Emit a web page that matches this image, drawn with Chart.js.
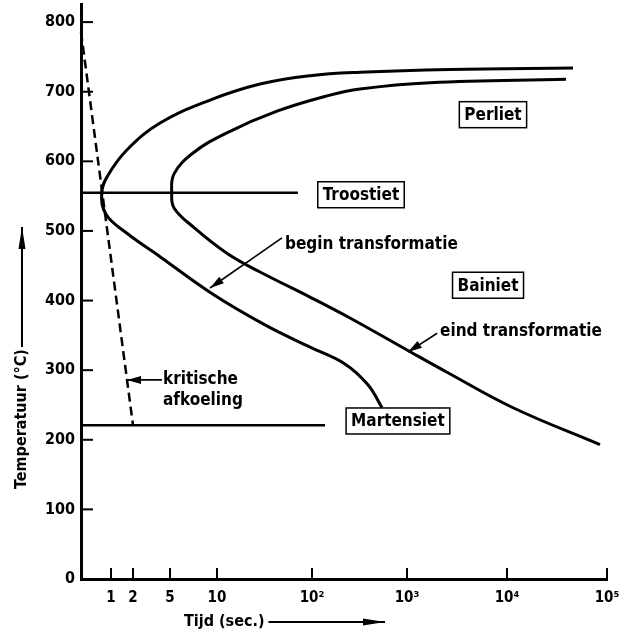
<!DOCTYPE html>
<html><head><meta charset="utf-8">
<script src="https://cdn.jsdelivr.net/npm/chart.js@4/dist/chart.umd.min.js"></script>
<style>html,body{margin:0;padding:0;background:#fff}</style>
</head><body>
<canvas id="c" width="636" height="634"></canvas>
<script>
// ---------- DATA (time in seconds, temperature in °C) ----------
const xTickValues = [0, 1, 2, 5, 10, 100, 1000, 10000, 100000];
const xTickLabels = ['', '1', '2', '5', '10', '10²', '10³', '10⁴', '10⁵'];
const yTickValues = [0, 100, 200, 300, 400, 500, 600, 700, 800];

// begin transformatie (outer C-curve): upper branch from right to nose, then lower branch
const beginTime = [45700, 2690, 320, 95.3, 28.4, 9.26, 4.19, 1.71, 0.9, 0.69,
                   0.833, 1.71, 4.19, 9.57, 32, 95.3, 222, 388, 546];
const beginTemp = [734, 732, 728, 723, 711, 688, 655, 616, 580, 555,
                   524, 497, 463, 409, 365, 333, 309, 279, 246];

// eind transformatie (inner C-curve)
const endTime = [38900, 1700, 320, 144, 42.8, 12.7, 7.45, 5.43, 5.18,
                 5.43, 7.45, 12.7, 28.4, 95.3, 251, 1000, 2512, 11500, 85100];
const endTemp = [718, 713, 704, 694, 672, 641, 612, 582, 555,
                 533, 506, 468, 441, 405, 375, 329, 297, 246, 193];

// kritische afkoeling (dashed)
const criticalTime = [0, 1, 2];
const criticalTemp = [786, 460, 221];

// horizontal lines (Troostiet level, Martensiet start)
const troostietTime = [0, 71];
const troostietTemp = [555, 555];
const martensietTime = [0, 137];
const martensietTemp = [221, 221];

// ---------- AXIS GEOMETRY (hand-drawn time axis: spacing of each tick) ----------
const xAxisUnits = [0, 30, 52, 89, 136, 231, 326, 426, 526];
function warp(t) {
  const n = xTickValues.length;
  for (let i = 1; i < n; i++) {
    if (t <= xTickValues[i] || i === n - 1) {
      const a = xTickValues[i - 1], b = xTickValues[i];
      const f = (a >= 10)
        ? (Math.log10(t) - Math.log10(a)) / (Math.log10(b) - Math.log10(a))
        : (t - a) / (b - a);
      return xAxisUnits[i - 1] + f * (xAxisUnits[i] - xAxisUnits[i - 1]);
    }
  }
}
const pts = (ts, Ts) => ts.map((t, i) => ({ x: warp(t), y: Ts[i] }));

const FONT = 'DejaVu Sans Condensed';

// annotations in data coordinates
const boxLabels = [
  { text: 'Perliet', t: 7240, T: 667 },
  { text: 'Troostiet', t: 328, T: 552 },
  { text: 'Bainiet', t: 6460, T: 422 },
  { text: 'Martensiet', t: 803, T: 227 }
];
const freeLabels = [
  { text: 'begin transformatie', t: 52, T: 480 },
  { text: 'eind transformatie', t: 2140, T: 355 },
  { text: 'kritische', t: 4.43, T: 286 },
  { text: 'afkoeling', t: 4.43, T: 257 }
];
const arrows = [
  { from: [48.3, 490], to: [9.26, 418] },
  { from: [2000, 353], to: [1023, 326] },
  { from: [4.35, 286], to: [1.73, 286] }
];

function line(ctx, x1, y1, x2, y2) { ctx.beginPath(); ctx.moveTo(x1, y1); ctx.lineTo(x2, y2); ctx.stroke(); }
function arrowHead(ctx, x1, y1, x2, y2, len, half) {
  const a = Math.atan2(y2 - y1, x2 - x1);
  const bx = x2 - len * Math.cos(a), by = y2 - len * Math.sin(a);
  ctx.beginPath();
  ctx.moveTo(x2, y2);
  ctx.lineTo(bx + half * Math.sin(a), by - half * Math.cos(a));
  ctx.lineTo(bx - half * Math.sin(a), by + half * Math.cos(a));
  ctx.closePath(); ctx.fill();
}

const overlay = {
  id: 'overlay',
  afterDraw(chart) {
    const ctx = chart.ctx, xs = chart.scales.x, ys = chart.scales.y;
    const P = (t, T) => ({ x: xs.getPixelForValue(warp(t)), y: ys.getPixelForValue(T) });
    ctx.save();
    ctx.strokeStyle = '#000'; ctx.fillStyle = '#000'; ctx.lineWidth = 2;
    // inward tick marks
    yTickValues.forEach(v => { if (v === 0) return; const y = ys.getPixelForValue(v); line(ctx, xs.left, y, xs.left + 12, y); });
    xTickValues.forEach(v => { if (v === 0) return; const x = xs.getPixelForValue(warp(v)); line(ctx, x, ys.bottom, x, ys.bottom - 11); });

    // boxed labels
    ctx.font = 'bold 17px "' + FONT + '"';
    ctx.textBaseline = 'middle'; ctx.textAlign = 'center';
    ctx.lineWidth = 1.5;
    boxLabels.forEach(b => {
      const p = P(b.t, b.T);
      const w = ctx.measureText(b.text).width + 10, h = 26;
      ctx.fillStyle = '#fff'; ctx.fillRect(p.x - w / 2, p.y - h / 2, w, h);
      ctx.strokeRect(p.x - w / 2, p.y - h / 2, w, h);
      ctx.fillStyle = '#000'; ctx.fillText(b.text, p.x, p.y + 1);
    });
    // free labels
    ctx.textAlign = 'left';
    freeLabels.forEach(l => { const p = P(l.t, l.T); ctx.fillText(l.text, p.x, p.y); });
    // pointer arrows
    ctx.lineWidth = 1.6;
    arrows.forEach(a => {
      const p1 = P(a.from[0], a.from[1]), p2 = P(a.to[0], a.to[1]);
      line(ctx, p1.x, p1.y, p2.x, p2.y);
      arrowHead(ctx, p1.x, p1.y, p2.x, p2.y, 14, 4);
    });

    // axis titles
    ctx.font = 'bold 16px "' + FONT + '"';
    ctx.textAlign = 'left'; ctx.textBaseline = 'middle';
    const tx = 184, ty = 622;
    ctx.fillText('Tijd (sec.)', tx, ty);
    const tw = ctx.measureText('Tijd (sec.)').width;
    ctx.lineWidth = 2;
    line(ctx, tx + tw + 4, ty, 385, ty);
    arrowHead(ctx, tx + tw + 4, ty, 385, ty, 22, 3.5);

    ctx.save();
    ctx.translate(22, 419); ctx.rotate(-Math.PI / 2);
    ctx.textAlign = 'center';
    ctx.fillText('Temperatuur (°C)', 0, 0);
    ctx.restore();
    line(ctx, 22, 347, 22, 227);
    arrowHead(ctx, 22, 347, 22, 227, 22, 3.5);
    ctx.restore();
  }
};

const common = { borderColor: '#000', pointRadius: 0, fill: false, clip: false };
new Chart(document.getElementById('c'), {
  type: 'line',
  data: {
    datasets: [
      { ...common, data: pts(beginTime, beginTemp), borderWidth: 3, tension: 0.4 },
      { ...common, data: pts(endTime, endTemp), borderWidth: 3, tension: 0.4 },
      { ...common, data: pts(criticalTime, criticalTemp), borderWidth: 2.5, borderDash: [9, 5], tension: 0 },
      { ...common, data: pts(troostietTime, troostietTemp), borderWidth: 2.5, tension: 0 },
      { ...common, data: pts(martensietTime, martensietTemp), borderWidth: 2.5, tension: 0 }
    ]
  },
  options: {
    responsive: false, animation: false, devicePixelRatio: 1,
    layout: { padding: { top: 4, right: 29, left: 0, bottom: 0 } },
    plugins: { legend: { display: false }, tooltip: { enabled: false } },
    scales: {
      x: {
        type: 'linear', min: 0, max: xAxisUnits[xAxisUnits.length - 1],
        afterBuildTicks: s => { s.ticks = xTickValues.map(v => ({ value: warp(v) })); },
        afterFit: s => { s.height = 55; s.paddingLeft = 0; s.paddingRight = 0; },
        grid: { display: false, drawTicks: false },
        border: { display: true, color: '#000', width: 3 },
        ticks: { callback: (v, i) => xTickLabels[i], autoSkip: false, maxRotation: 0, padding: 10, color: '#000',
                 font: { family: FONT, size: 15, weight: 'bold' } }
      },
      y: {
        type: 'linear', min: 0, max: 826,
        afterBuildTicks: s => { s.ticks = yTickValues.map(v => ({ value: v })); },
        afterFit: s => { s.width = 81; s.paddingTop = 0; s.paddingBottom = 0; },
        grid: { display: false, drawTicks: false },
        border: { display: true, color: '#000', width: 3 },
        ticks: { padding: 6, color: '#000', font: { family: FONT, size: 16, weight: 'bold' } }
      }
    }
  },
  plugins: [overlay]
});
</script>
</body></html>
